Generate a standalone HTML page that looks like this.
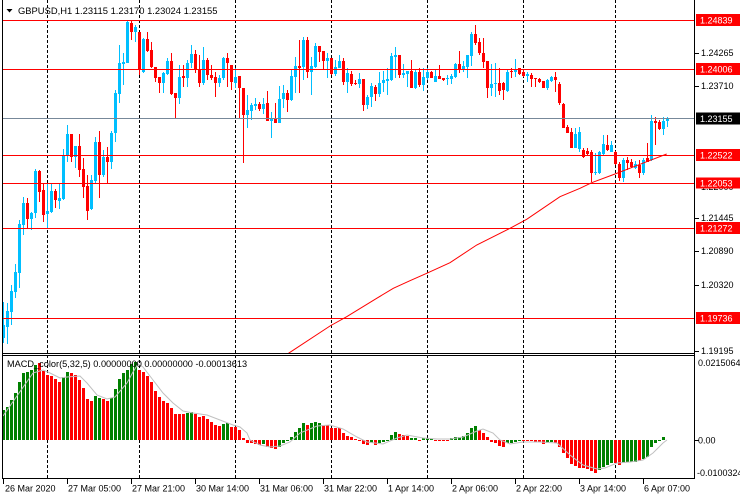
<!DOCTYPE html>
<html><head><meta charset="utf-8"><style>
html,body{margin:0;padding:0;background:#fff;width:740px;height:500px;overflow:hidden}
svg{display:block}
text{font-family:"Liberation Sans",Arial,sans-serif;font-size:9px;fill:#000}
</style></head><body>
<svg width="740" height="500" viewBox="0 0 740 500" xmlns="http://www.w3.org/2000/svg">
<rect width="740" height="500" fill="#fff"/>
<defs>
<clipPath id="mainclip"><rect x="3" y="0" width="691" height="353"/></clipPath>
<clipPath id="macdclip"><rect x="3" y="356" width="691" height="122"/></clipPath>
</defs>
<!-- vertical dashed grid -->
<g stroke="#000" stroke-width="1" stroke-dasharray="3,2">
<line x1="47.5" y1="0" x2="47.5" y2="478"/>
<line x1="139.5" y1="0" x2="139.5" y2="478"/>
<line x1="235.5" y1="0" x2="235.5" y2="478"/>
<line x1="331.5" y1="0" x2="331.5" y2="478"/>
<line x1="427.5" y1="0" x2="427.5" y2="478"/>
<line x1="523.5" y1="0" x2="523.5" y2="478"/>
<line x1="615.5" y1="0" x2="615.5" y2="478"/>
</g>
<!-- candles -->
<g clip-path="url(#mainclip)">
<path fill="#00BFFF" d="M3 302h1v41h-1zM2 325h3v13h-3zM7 303h1v41h-1zM6 311h3v16h-3zM11 285h1v40h-1zM10 291h3v21h-3zM15 264h1v34h-1zM14 272h3v20h-3zM19 220h1v68h-1zM18 224h3v49h-3zM23 197h1v38h-1zM22 203h3v22h-3zM31 212h1v18h-1zM30 213h3v6h-3zM35 169h1v49h-1zM34 171h3v42h-3zM47 184h1v44h-1zM46 211h3v3h-3zM51 183h1v30h-1zM50 191h3v21h-3zM59 183h1v26h-1zM58 198h3v3h-3zM63 149h1v51h-1zM62 155h3v44h-3zM67 125h1v37h-1zM66 134h3v22h-3zM75 146h1v22h-1zM74 146h3v11h-3zM91 175h1v35h-1zM90 180h3v29h-3zM95 137h1v46h-1zM94 142h3v39h-3zM103 150h1v27h-1zM102 157h3v18h-3zM111 131h1v38h-1zM110 133h3v29h-3zM115 90h1v52h-1zM114 93h3v40h-3zM119 45h1v58h-1zM118 63h3v31h-3zM123 53h1v32h-1zM122 62h3v2h-3zM127 20h1v43h-1zM126 22h3v41h-3zM135 25h1v17h-1zM134 27h3v5h-3zM143 38h1v35h-1zM142 39h3v33h-3zM163 72h1v21h-1zM162 73h3v10h-3zM167 58h1v17h-1zM166 61h3v13h-3zM179 65h1v39h-1zM178 77h3v21h-3zM187 60h1v27h-1zM186 63h3v15h-3zM191 45h1v23h-1zM190 54h3v9h-3zM203 47h1v38h-1zM202 60h3v23h-3zM219 75h1v12h-1zM218 78h3v5h-3zM223 57h1v23h-1zM222 58h3v20h-3zM235 68h1v20h-1zM234 77h3v6h-3zM247 95h1v33h-1zM246 110h3v5h-3zM251 103h1v17h-1zM250 105h3v6h-3zM255 98h1v12h-1zM254 104h3v2h-3zM263 98h1v16h-1zM262 104h3v5h-3zM271 112h1v26h-1zM270 118h3v3h-3zM279 86h1v37h-1zM278 99h3v24h-3zM283 85h1v23h-1zM282 93h3v6h-3zM291 69h1v32h-1zM290 76h3v24h-3zM295 57h1v36h-1zM294 66h3v11h-3zM303 37h1v43h-1zM302 40h3v27h-3zM311 57h1v38h-1zM310 66h3v6h-3zM315 43h1v25h-1zM314 46h3v21h-3zM327 53h1v25h-1zM326 58h3v3h-3zM335 60h1v16h-1zM334 67h3v7h-3zM339 55h1v13h-1zM338 61h3v7h-3zM347 68h1v25h-1zM346 73h3v9h-3zM359 73h1v15h-1zM358 79h3v5h-3zM367 95h1v14h-1zM366 97h3v8h-3zM371 83h1v24h-1zM370 86h3v11h-3zM379 72h1v25h-1zM378 83h3v11h-3zM383 71h1v21h-1zM382 80h3v3h-3zM387 68h1v27h-1zM386 79h3v2h-3zM391 53h1v28h-1zM390 56h3v24h-3zM395 47h1v31h-1zM394 55h3v2h-3zM403 64h1v14h-1zM402 73h3v2h-3zM407 71h1v16h-1zM406 71h3v3h-3zM415 69h1v20h-1zM414 72h3v16h-3zM423 68h1v23h-1zM422 77h3v8h-3zM427 68h1v12h-1zM426 72h3v6h-3zM435 70h1v12h-1zM434 76h3v6h-3zM447 75h1v10h-1zM446 78h3v1h-3zM451 74h1v10h-1zM450 76h3v3h-3zM455 63h1v15h-1zM454 64h3v13h-3zM463 61h1v11h-1zM462 66h3v4h-3zM467 55h1v23h-1zM466 55h3v12h-3zM471 32h1v34h-1zM470 34h3v22h-3zM491 64h1v32h-1zM490 84h3v4h-3zM495 63h1v34h-1zM494 83h3v1h-3zM507 70h1v22h-1zM506 72h3v19h-3zM515 59h1v18h-1zM514 70h3v2h-3zM527 72h1v10h-1zM526 74h3v2h-3zM547 79h1v11h-1zM546 80h3v8h-3zM551 76h1v6h-1zM550 77h3v4h-3zM575 128h1v20h-1zM574 134h3v14h-3zM579 127h1v25h-1zM578 132h3v17h-3zM595 153h1v22h-1zM594 172h3v1h-3zM599 151h1v23h-1zM598 152h3v21h-3zM603 135h1v20h-1zM602 144h3v10h-3zM611 141h1v11h-1zM610 145h3v7h-3zM623 158h1v24h-1zM622 160h3v18h-3zM635 161h1v8h-1zM634 164h3v4h-3zM643 158h1v17h-1zM642 160h3v13h-3zM651 115h1v46h-1zM650 121h3v39h-3zM663 117h1v18h-1zM662 121h3v8h-3zM667 117h1v10h-1zM666 118h3v3h-3z"/>
<path fill="#FF0000" d="M27 198h1v30h-1zM26 203h3v16h-3zM39 170h1v32h-1zM38 171h3v21h-3zM43 183h1v39h-1zM42 190h3v25h-3zM55 189h1v19h-1zM54 191h3v9h-3zM71 134h1v28h-1zM70 134h3v23h-3zM79 134h1v43h-1zM78 146h3v24h-3zM83 158h1v40h-1zM82 169h3v18h-3zM87 175h1v45h-1zM86 186h3v25h-3zM99 131h1v67h-1zM98 142h3v33h-3zM107 147h1v36h-1zM106 157h3v5h-3zM131 21h1v19h-1zM130 23h3v9h-3zM139 32h1v43h-1zM138 32h3v38h-3zM147 32h1v20h-1zM146 39h3v12h-3zM151 42h1v26h-1zM150 50h3v17h-3zM155 67h1v15h-1zM154 67h3v11h-3zM159 77h1v16h-1zM158 77h3v6h-3zM171 53h1v42h-1zM170 61h3v33h-3zM175 93h1v25h-1zM174 93h3v5h-3zM183 65h1v22h-1zM182 76h3v2h-3zM195 50h1v23h-1zM194 54h3v16h-3zM199 55h1v32h-1zM198 69h3v14h-3zM207 58h1v22h-1zM206 60h3v15h-3zM211 65h1v15h-1zM210 75h3v3h-3zM215 72h1v25h-1zM214 77h3v6h-3zM227 53h1v34h-1zM226 58h3v5h-3zM231 65h1v25h-1zM230 65h3v17h-3zM239 76h1v42h-1zM238 76h3v12h-3zM243 88h1v75h-1zM242 88h3v27h-3zM259 102h1v9h-1zM258 104h3v5h-3zM267 91h1v30h-1zM266 103h3v18h-3zM275 103h1v20h-1zM274 118h3v5h-3zM287 90h1v22h-1zM286 93h3v7h-3zM299 40h1v53h-1zM298 66h3v2h-3zM307 37h1v41h-1zM306 40h3v32h-3zM319 46h1v16h-1zM318 46h3v6h-3zM323 51h1v19h-1zM322 51h3v10h-3zM331 58h1v17h-1zM330 58h3v16h-3zM343 58h1v27h-1zM342 61h3v21h-3zM351 71h1v15h-1zM350 74h3v10h-3zM355 80h1v5h-1zM354 83h3v1h-3zM363 79h1v32h-1zM362 79h3v26h-3zM375 85h1v16h-1zM374 87h3v7h-3zM399 55h1v23h-1zM398 55h3v20h-3zM411 60h1v28h-1zM410 71h3v17h-3zM419 68h1v19h-1zM418 72h3v13h-3zM431 71h1v7h-1zM430 72h3v6h-3zM439 65h1v14h-1zM438 76h3v3h-3zM443 78h1v3h-1zM442 78h3v2h-3zM459 51h1v22h-1zM458 64h3v6h-3zM475 25h1v20h-1zM474 34h3v9h-3zM479 38h1v17h-1zM478 42h3v11h-3zM483 38h1v30h-1zM482 53h3v9h-3zM487 61h1v37h-1zM486 61h3v27h-3zM499 68h1v27h-1zM498 83h3v8h-3zM503 82h1v18h-1zM502 83h3v7h-3zM511 68h1v10h-1zM510 71h3v1h-3zM519 68h1v7h-1zM518 68h3v6h-3zM523 70h1v7h-1zM522 72h3v4h-3zM531 73h1v14h-1zM530 75h3v4h-3zM535 78h1v9h-1zM534 78h3v1h-3zM539 78h1v5h-1zM538 79h3v3h-3zM543 81h1v7h-1zM542 81h3v7h-3zM555 72h1v20h-1zM554 77h3v3h-3zM559 82h1v23h-1zM558 84h3v19h-3zM563 103h1v25h-1zM562 104h3v24h-3zM567 125h1v8h-1zM566 127h3v6h-3zM571 128h1v20h-1zM570 132h3v16h-3zM583 148h1v10h-1zM582 150h3v7h-3zM587 148h1v8h-1zM586 151h3v3h-3zM591 150h1v32h-1zM590 152h3v21h-3zM607 135h1v16h-1zM606 145h3v5h-3zM615 151h1v14h-1zM614 152h3v12h-3zM619 162h1v19h-1zM618 164h3v14h-3zM627 157h1v13h-1zM626 160h3v3h-3zM631 159h1v9h-1zM630 162h3v5h-3zM639 160h1v18h-1zM638 165h3v8h-3zM647 143h1v19h-1zM646 158h3v4h-3zM655 117h1v28h-1zM654 121h3v2h-3zM659 120h1v10h-1zM658 122h3v7h-3z"/>
<!-- MA line -->
<polyline fill="none" stroke="#FF0000" stroke-width="1" points="286,355 290,352.3 330,326 346.7,316.7 376.7,298.3 393.3,288.3 410,280.7 426.7,273.3 450,262.7 476.7,245 510,228.3 526.7,219.3 560,196.7 580,188.3 591.7,182.7 615,174 646.7,161.7 666.7,154"/>
</g>
<!-- horizontal lines -->
<g stroke="#FF0000" stroke-width="1">
<line x1="3" y1="20.5" x2="694" y2="20.5"/>
<line x1="3" y1="69.5" x2="694" y2="69.5"/>
<line x1="3" y1="155.5" x2="694" y2="155.5"/>
<line x1="3" y1="183.5" x2="694" y2="183.5"/>
<line x1="3" y1="228.5" x2="694" y2="228.5"/>
<line x1="3" y1="318.5" x2="694" y2="318.5"/>
</g>
<line x1="3" y1="118.5" x2="694" y2="118.5" stroke="#778899" stroke-width="1"/>
<!-- MACD histogram -->
<g clip-path="url(#macdclip)">
<path fill="#008000" d="M2 410h3V440h-3zM6 407h3V440h-3zM10 400h3V440h-3zM14 393h3V440h-3zM18 382h3V440h-3zM22 373h3V440h-3zM26 372h3V440h-3zM30 370h3V440h-3zM34 365h3V440h-3zM62 377h3V440h-3zM66 372h3V440h-3zM94 396h3V440h-3zM98 398h3V440h-3zM110 398h3V440h-3zM114 389h3V440h-3zM118 379h3V440h-3zM122 373h3V440h-3zM126 370h3V440h-3zM130 364h3V440h-3zM134 362h3V440h-3zM186 413h3V440h-3zM190 412h3V440h-3zM222 424h3V440h-3zM226 423h3V440h-3zM262 440h3V444h-3zM278 440h3V447h-3zM282 440h3V443h-3zM286 440h3V441h-3zM290 437h3V440h-3zM294 432h3V440h-3zM298 428h3V440h-3zM302 423h3V440h-3zM310 423h3V440h-3zM314 422h3V440h-3zM318 423h3V440h-3zM370 440h3V443h-3zM378 440h3V443h-3zM382 440h3V442h-3zM386 440h3V441h-3zM390 435h3V440h-3zM394 432h3V440h-3zM410 438h3V440h-3zM414 438h3V440h-3zM422 438h3V440h-3zM426 438h3V440h-3zM430 439h3V440h-3zM450 438h3V440h-3zM454 437h3V440h-3zM458 437h3V440h-3zM462 436h3V440h-3zM466 433h3V440h-3zM470 428h3V440h-3zM474 426h3V440h-3zM506 440h3V443h-3zM510 440h3V443h-3zM514 440h3V442h-3zM518 440h3V441h-3zM546 440h3V443h-3zM550 440h3V442h-3zM598 440h3V470h-3zM602 440h3V467h-3zM606 440h3V465h-3zM610 440h3V463h-3zM622 440h3V463h-3zM626 440h3V462h-3zM630 440h3V462h-3zM634 440h3V462h-3zM642 440h3V459h-3zM646 440h3V457h-3zM650 440h3V447h-3zM654 440h3V443h-3zM658 440h3V441h-3zM662 437h3V440h-3z"/>
<path fill="#FF0000" d="M38 363h3V440h-3zM42 371h3V440h-3zM46 375h3V440h-3zM50 376h3V440h-3zM54 379h3V440h-3zM58 382h3V440h-3zM70 373h3V440h-3zM74 375h3V440h-3zM78 380h3V440h-3zM82 388h3V440h-3zM86 399h3V440h-3zM90 401h3V440h-3zM102 399h3V440h-3zM106 401h3V440h-3zM138 370h3V440h-3zM142 372h3V440h-3zM146 376h3V440h-3zM150 382h3V440h-3zM154 391h3V440h-3zM158 397h3V440h-3zM162 401h3V440h-3zM166 403h3V440h-3zM170 408h3V440h-3zM174 414h3V440h-3zM178 414h3V440h-3zM182 414h3V440h-3zM194 414h3V440h-3zM198 417h3V440h-3zM202 416h3V440h-3zM206 419h3V440h-3zM210 422h3V440h-3zM214 425h3V440h-3zM218 426h3V440h-3zM230 427h3V440h-3zM234 427h3V440h-3zM238 430h3V440h-3zM242 438h3V440h-3zM246 440h3V443h-3zM250 440h3V443h-3zM254 440h3V444h-3zM258 440h3V445h-3zM266 440h3V447h-3zM270 440h3V448h-3zM274 440h3V449h-3zM306 425h3V440h-3zM322 425h3V440h-3zM326 425h3V440h-3zM330 428h3V440h-3zM334 428h3V440h-3zM338 428h3V440h-3zM342 433h3V440h-3zM346 436h3V440h-3zM350 437h3V440h-3zM354 439h3V440h-3zM358 440h3V441h-3zM362 440h3V444h-3zM366 440h3V445h-3zM374 440h3V445h-3zM398 434h3V440h-3zM402 435h3V440h-3zM406 436h3V440h-3zM418 440h3V441h-3zM434 440h3V441h-3zM438 440h3V441h-3zM442 440h3V441h-3zM446 440h3V441h-3zM478 430h3V440h-3zM482 433h3V440h-3zM486 437h3V440h-3zM490 440h3V442h-3zM494 440h3V443h-3zM498 440h3V446h-3zM502 440h3V447h-3zM522 440h3V441h-3zM526 440h3V441h-3zM530 440h3V441h-3zM534 440h3V442h-3zM538 440h3V442h-3zM542 440h3V444h-3zM554 440h3V443h-3zM558 440h3V447h-3zM562 440h3V453h-3zM566 440h3V458h-3zM570 440h3V464h-3zM574 440h3V466h-3zM578 440h3V468h-3zM582 440h3V468h-3zM586 440h3V469h-3zM590 440h3V471h-3zM594 440h3V473h-3zM614 440h3V463h-3zM618 440h3V465h-3zM638 440h3V461h-3z"/>
<polyline fill="none" stroke="#C0C0C0" stroke-width="1" points="3,416 33,373 43,370 50,373 60,378 67,377 80,376 87,383 97,395 107,399 115,397 127,383 133,372 138,364 143,367 153,380 163,393 173,403 183,411 193,413 207,415 220,420 233,425 240,427 247,433 250,440 260,445 270,447 280,446 290,442 300,433 317,426 330,425 343,429 357,437 367,442 383,444 397,438 407,435 423,438 437,439 450,439 463,437 477,431 483,429 493,433 500,440 510,444 523,442 540,442 557,443 570,455 583,465 597,469 605,468 617,463 630,462 643,460 653,453 663,443 667,440"/>
</g>
<!-- borders -->
<g stroke="#000" stroke-width="1" fill="none">
<line x1="2.5" y1="0" x2="2.5" y2="479"/>
<line x1="694.5" y1="0" x2="694.5" y2="479"/>
<line x1="2" y1="353.5" x2="695" y2="353.5"/>
<line x1="2" y1="355.5" x2="695" y2="355.5"/>
<line x1="2" y1="478.5" x2="695" y2="478.5"/>
</g>
<!-- title -->
<polygon points="6.5,9 12.5,9 9.5,12.5" fill="#000"/>
<text x="18" y="14" style="font-size:9.4px">GBPUSD,H1  1.23115 1.23170 1.23024 1.23155</text>
<text x="7" y="367" style="font-size:9.2px">MACD_color(5,32,5) 0.00000000 0.00000000 -0.00013613</text>
<!-- right axis ticks -->
<g stroke="#000" stroke-width="1">
<line x1="695" y1="53.5" x2="699" y2="53.5"/>
<line x1="695" y1="86.5" x2="699" y2="86.5"/>
<line x1="695" y1="218.5" x2="699" y2="218.5"/>
<line x1="695" y1="251.5" x2="699" y2="251.5"/>
<line x1="695" y1="285.5" x2="699" y2="285.5"/>
<line x1="695" y1="351.5" x2="699" y2="351.5"/>
<line x1="695" y1="440.5" x2="699" y2="440.5"/>
</g>
<text x="701" y="56">1.24265</text>
<text x="701" y="89">1.23710</text>
<text x="701" y="190">1.22000</text>
<text x="701" y="221">1.21445</text>
<text x="701" y="254">1.20890</text>
<text x="701" y="288">1.20320</text>
<text x="701" y="354">1.19195</text>
<!-- price boxes -->
<rect x="696" y="14" width="44" height="12" fill="#FF0000"/>
<text x="700" y="23.5" style="fill:#fff">1.24839</text>
<rect x="696" y="63" width="44" height="12" fill="#FF0000"/>
<text x="700" y="72.5" style="fill:#fff">1.24006</text>
<rect x="696" y="112.5" width="44" height="12" fill="#000"/>
<text x="700" y="122" style="fill:#fff">1.23155</text>
<rect x="696" y="149" width="44" height="12" fill="#FF0000"/>
<text x="700" y="158.5" style="fill:#fff">1.22522</text>
<rect x="696" y="177.5" width="44" height="11" fill="#FF0000"/>
<text x="700" y="186.5" style="fill:#fff">1.22053</text>
<rect x="696" y="222" width="44" height="12" fill="#FF0000"/>
<text x="700" y="231.5" style="fill:#fff">1.21272</text>
<rect x="696" y="312" width="44" height="12" fill="#FF0000"/>
<text x="700" y="321.5" style="fill:#fff">1.19736</text>
<!-- MACD axis -->
<text x="698" y="366">0.0215064</text>
<text x="698" y="443.5">0.00</text>
<text x="697" y="476">-0.0100324</text>
<!-- time axis -->
<g stroke="#000" stroke-width="1">
<line x1="3.5" y1="479" x2="3.5" y2="484"/>
<line x1="67.5" y1="479" x2="67.5" y2="484"/>
<line x1="131.5" y1="479" x2="131.5" y2="484"/>
<line x1="195.5" y1="479" x2="195.5" y2="484"/>
<line x1="259.5" y1="479" x2="259.5" y2="484"/>
<line x1="323.5" y1="479" x2="323.5" y2="484"/>
<line x1="387.5" y1="479" x2="387.5" y2="484"/>
<line x1="451.5" y1="479" x2="451.5" y2="484"/>
<line x1="515.5" y1="479" x2="515.5" y2="484"/>
<line x1="579.5" y1="479" x2="579.5" y2="484"/>
<line x1="643.5" y1="479" x2="643.5" y2="484"/>
</g>
<g style="font-size:9.2px">
<text x="5" y="491.5">26 Mar 2020</text>
<text x="68" y="491.5">27 Mar 05:00</text>
<text x="132" y="491.5">27 Mar 21:00</text>
<text x="196" y="491.5">30 Mar 14:00</text>
<text x="260" y="491.5">31 Mar 06:00</text>
<text x="324" y="491.5">31 Mar 22:00</text>
<text x="388" y="491.5">1 Apr 14:00</text>
<text x="452" y="491.5">2 Apr 06:00</text>
<text x="516" y="491.5">2 Apr 22:00</text>
<text x="580" y="491.5">3 Apr 14:00</text>
<text x="644" y="491.5">6 Apr 07:00</text>
</g>
</svg>
</body></html>
